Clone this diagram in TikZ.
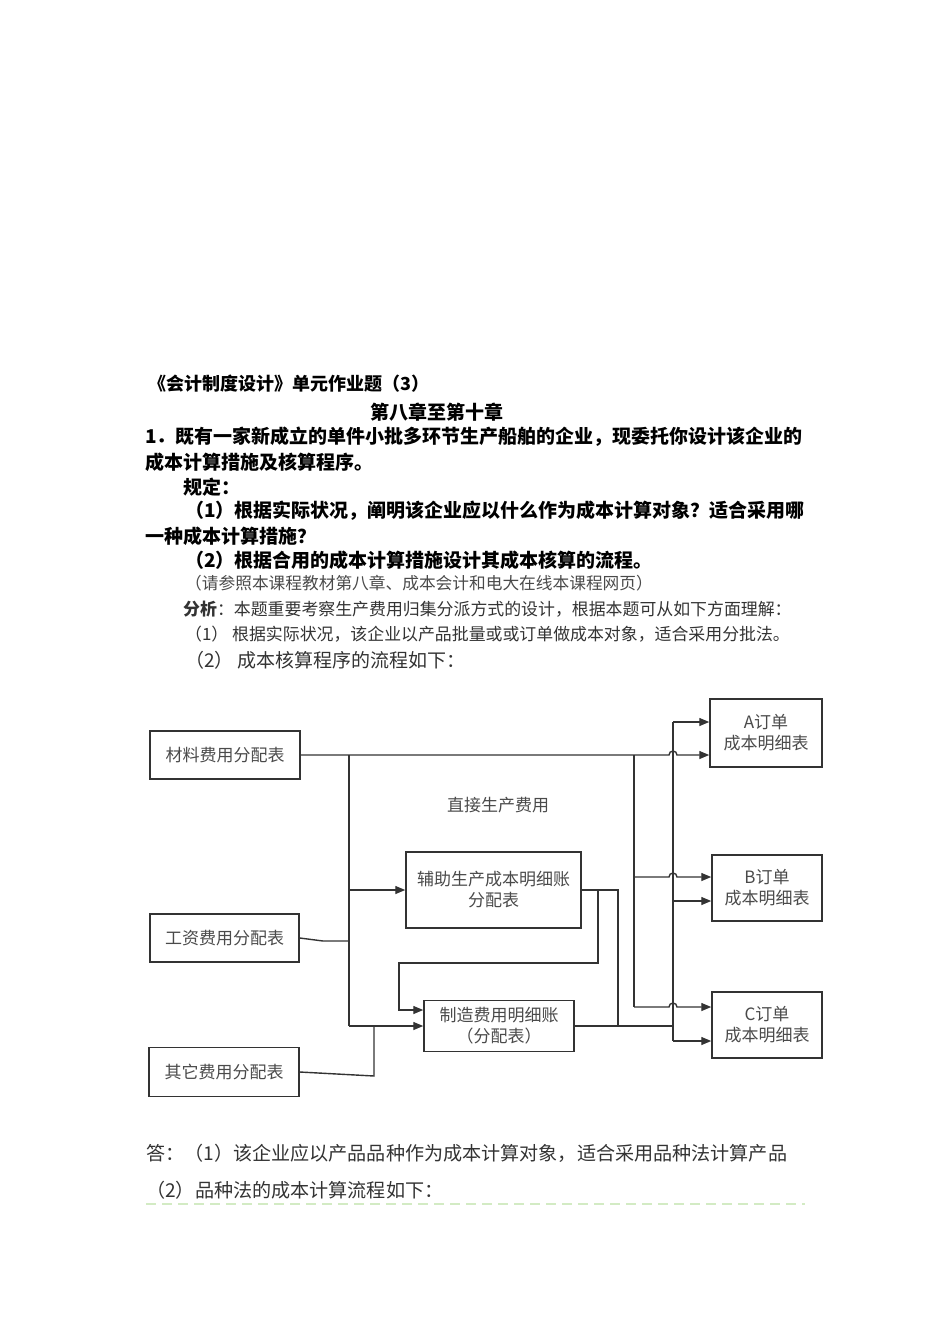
\documentclass[tikz,border=0pt]{standalone}
\usepackage{fontspec}
\setmainfont{Noto Sans CJK SC}
\usepackage{tikz}
\usetikzlibrary{positioning,calc,arrows.meta}

\definecolor{boxline}{HTML}{333333}
\definecolor{boxtext}{HTML}{4A4A4A}
\definecolor{bodytext}{HTML}{333333}
\definecolor{softgreen}{HTML}{D3EBC4}

\tikzset{
    txt/.style={anchor=west, inner sep=0pt},
    head/.style={txt, font=\fontsize{19}{22}\selectfont\bfseries},
    plain/.style={txt, text=bodytext, font=\fontsize{16.9}{20}\selectfont},
    sheet/.style={draw=boxline, line width=1.5pt, inner sep=0pt, align=center,
        text=boxtext, font=\fontsize{17}{21}\selectfont},
    wire/.style={draw=boxline, line width=1.4pt},
    flow/.style={wire, -{Triangle[length=10pt,width=8pt]}}
}

\begin{document}
\begin{tikzpicture}[x=1pt,y=-1pt]
    \useasboundingbox (0,0) rectangle (950,1344);

    % heading and question
    \node [txt, font=\fontsize{18}{20}\selectfont\bfseries] (t1) at (148,384) {《会计制度设计》单元作业题（3）};
    \node [font=\fontsize{19}{22}\selectfont\bfseries, inner sep=0pt] (t2) at (437,412) {第八章至第十章};
    \node [head] (t3) at (145,437) {1．既有一家新成立的单件小批多环节生产船舶的企业，现委托你设计该企业的};
    \node [head] (t4) at (145,462) {成本计算措施及核算程序。};
    \node [head] (t5) at (183,487) {规定：};
    \node [head] (t6) at (185,511) {（1）根据实际状况，阐明该企业应以什么作为成本计算对象？适合采用哪};
    \node [head] (t7) at (145,536) {一种成本计算措施？};
    \node [head] (t8) at (185,560) {（2）根据合用的成本计算措施设计其成本核算的流程。};
    \node [txt, text=boxtext, font=\fontsize{16.7}{19}\selectfont] (t9) at (185,583) {（请参照本课程教材第八章、成本会计和电大在线本课程网页）};
    \node [plain] (t10) at (183,609) {\textbf{分析}：本题重要考察生产费用归集分派方式的设计，根据本题可从如下方面理解：};
    \node [plain] (t11) at (185,634) {（1） 根据实际状况，该企业以产品批量或或订单做成本对象，适合采用分批法。};
    \node [plain, font=\fontsize{19}{22}\selectfont] (t12) at (185,660) {（2） 成本核算程序的流程如下：};

    % flow chart boxes
    \node [sheet, minimum width=150pt, minimum height=48pt] (cl) at (225,755) {材料费用分配表};
    \node [sheet, minimum width=149pt, minimum height=48pt] (gz) at (224.5,938) {工资费用分配表};
    \node [sheet, minimum width=150pt, minimum height=49pt] (qt) at (224,1072) {其它费用分配表};
    \node [sheet, minimum width=175pt, minimum height=76pt] (fz) at (493.5,890) {辅助生产成本明细账\\分配表};
    \node [sheet, minimum width=150pt, minimum height=51pt] (zz) at (499,1026) {制造费用明细账\\（分配表）};
    \node [sheet, minimum width=112pt, minimum height=68pt] (ordA) at (766,733) {A订单\\成本明细表};
    \node [sheet, minimum width=110pt, minimum height=66pt] (ordB) at (767,888) {B订单\\成本明细表};
    \node [sheet, minimum width=110pt, minimum height=66pt] (ordC) at (767,1025) {C订单\\成本明细表};
    \node [text=boxtext, font=\fontsize{17}{21}\selectfont, inner sep=0pt] (zj) at (498,805) {直接生产费用};

    % bus points
    \coordinate (lt) at (349,755);
    \coordinate (lf) at (349,890);
    \coordinate (lg) at (349,941);
    \coordinate (lb) at (349,1026);
    \coordinate (gk) at (323,941);
    \coordinate (qk) at (374,1076);
    \coordinate (qj) at (374,1026);
    \coordinate (rt) at (634,755);
    \coordinate (rm) at (634,877);
    \coordinate (rb) at (634,1007);
    \coordinate (ot) at (673,722);
    \coordinate (om) at (673,901);
    \coordinate (oj) at (673,1026);
    \coordinate (obt) at (673,1041);
    \coordinate (fk) at (618,890);
    \coordinate (fj) at (618,1026);
    \coordinate (fa) at (598,890);
    \coordinate (fb) at (598,963);
    \coordinate (fc) at (399,963);
    \coordinate (fd) at (399,1010);

    % left side
    \draw [wire] (lt) -- (lb);
    \draw [wire] (gz.east) -- (gk) -- (lg);
    \draw [wire] (qt.east) -- (qk) -- (qj);
    \draw [flow] (lf) -- (fz.west);
    \draw [flow] (lb) -- (zz.west);
    \draw [flow] (fa) -- (fb) -- (fc) -- (fd) -- (zz.west |- fd);
    \draw [wire] (fz.east) -- (fk) -- (fj);
    \draw [wire] (zz.east) -- (oj);

    % right side
    \draw [wire] (rt) -- (rb);
    \draw [wire] (ot) -- (obt);
    \draw [flow] (cl.east) -- ($(rt -| ot)+(-4,0)$) arc [start angle=180, end angle=0, radius=4pt] -- (ordA.west |- rt);
    \draw [flow] (ot) -- (ordA.west |- ot);
    \draw [flow] (rm) -- ($(rm -| ot)+(-4,0)$) arc [start angle=180, end angle=0, radius=4pt] -- (ordB.west |- rm);
    \draw [flow] (om) -- (ordB.west |- om);
    \draw [flow] (rb) -- ($(rb -| ot)+(-4,0)$) arc [start angle=180, end angle=0, radius=4pt] -- (ordC.west |- rb);
    \draw [flow] (obt) -- (ordC.west |- obt);

    % answer
    \node [txt, text=bodytext, font=\fontsize{19.1}{23}\selectfont] (t13) at (146,1153) {答：（1）该企业应以产品品种作为成本计算对象，适合采用品种法计算产品};
    \node [txt, text=bodytext, font=\fontsize{19.1}{23}\selectfont] (t14) at (146,1190) {（2）品种法的成本计算流程如下：};
    \coordinate (gl) at (146,1204);
    \coordinate (gr) at (805,1204);
    \draw [softgreen, line width=2.5pt, dash pattern=on 10pt off 6pt] (gl) -- (gr);
\end{tikzpicture}
\end{document}
